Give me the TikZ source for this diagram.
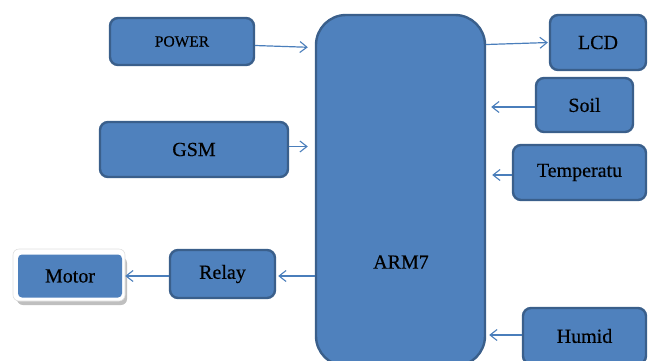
\documentclass[tikz,border=0pt]{standalone}
\usepackage{fontspec}
\setmainfont{Liberation Serif}[RawFeature={embolden=0.4}]
\usetikzlibrary{arrows.meta,calc}
\definecolor{boxblue}{HTML}{4F81BD}
\definecolor{boxedge}{HTML}{3A5F8B}
\definecolor{arrblue}{HTML}{4A7EBB}
\tikzset{
  blk/.style={draw=boxedge, line width=2.4pt, fill=boxblue, rounded corners=8pt,
    inner sep=0pt, font=\fontsize{20}{24}\selectfont, text=black},
  arr/.style={draw=arrblue, line width=1.2pt,
    -{Straight Barb[length=7pt,width=11pt,line width=1.1pt]}},
}
\begin{document}
\begin{tikzpicture}[x=1pt,y=-1pt]
\useasboundingbox (0,0) rectangle (652,360);
% main controller
\node[blk, rounded corners=30pt, minimum width=169pt, minimum height=351pt] (ARM) at (400.5,190.5) {};
\node[font=\fontsize{20}{24}\selectfont] (armlabel) at (401,262) {ARM7};
% blocks
\node[blk, minimum width=144pt, minimum height=47pt, font=\fontsize{15.5}{18}\selectfont] (POWER) at (182,41.5) {POWER};
\node[blk, minimum width=188pt, minimum height=55pt] (GSM) at (194,149.5) {GSM};
\node[blk, minimum width=96pt, minimum height=55pt] (LCD) at (598,42.5) {LCD};
\node[blk, minimum width=97pt, minimum height=54pt] (Soil) at (584.5,105) {Soil};
\node[blk, minimum width=133pt, minimum height=55pt] (Temp) at (579.5,172.5) {Temperatu};
\node[blk, minimum width=123pt, minimum height=56pt] (Humid) at (584.5,336) {Humid};
\node[blk, minimum width=105pt, minimum height=48pt] (Relay) at (222.5,274) {Relay};
% motor with white frame and shadow
\fill[gray!50, rounded corners=6pt] (17,257) rectangle (127,305);
\filldraw[fill=white, draw=gray!25, line width=0.6pt, rounded corners=6pt] (13,249) rectangle (125,301);
\node[fill=boxblue, rounded corners=4pt, inner sep=0pt, minimum width=104pt, minimum height=43pt,
  font=\fontsize{20}{24}\selectfont] (Motor) at (70,276) {Motor};
% connectors
\draw[arr, shorten >=7pt] ([yshift=-4pt]POWER.east) -- ([yshift=-6pt]POWER.east -| ARM.west);
\draw[arr, shorten >=7pt] ([yshift=3pt]GSM.east) -- ([yshift=3pt]GSM.east -| ARM.west);
\draw[arr, shorten >=1pt] ([yshift=-2pt]LCD.west -| ARM.east) -- (LCD.west);
\draw[arr, shorten >=5pt] ([yshift=-2pt]Soil.west) -- ([yshift=-2pt]Soil.west -| ARM.east);
\draw[arr, shorten >=6pt] ([yshift=-2.5pt]Temp.west) -- ([yshift=-2.5pt]Temp.west -| ARM.east);
\draw[arr, shorten >=3pt] ([yshift=1pt]Humid.west) -- ([yshift=1pt]Humid.west -| ARM.east);
\draw[arr, shorten >=2pt] ([yshift=-2pt]Relay.east -| ARM.west) -- ([yshift=-2pt]Relay.east);
\draw[arr, shorten >=3pt] ([yshift=-2pt]Relay.west) -- ([yshift=-2pt]Relay.west -| Motor.east);
\end{tikzpicture}
\end{document}
